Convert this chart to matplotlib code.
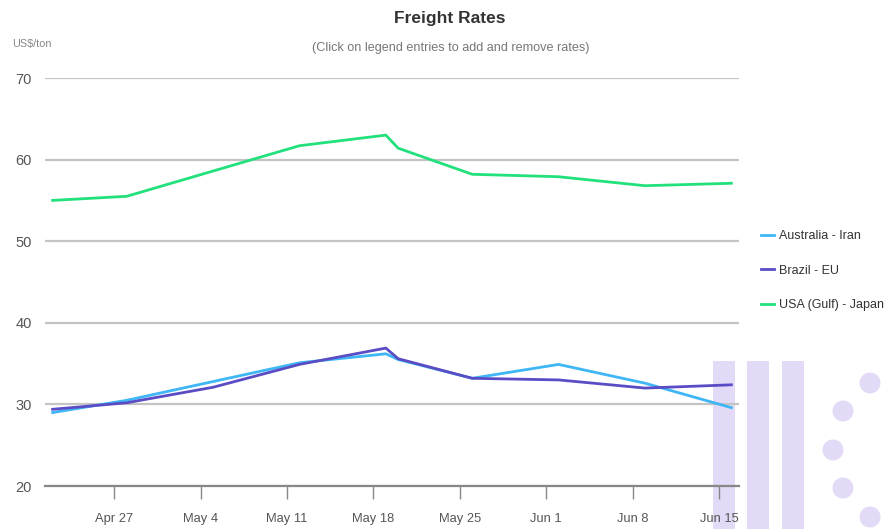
import matplotlib
matplotlib.use("Agg")
import matplotlib.pyplot as plt
import matplotlib.dates as mdates
import matplotlib.patches as mpatches
import pandas as pd

plt.rcParams['font.family'] = ['Liberation Sans', 'DejaVu Sans']

dates = ["2020-04-22", "2020-04-28", "2020-05-05", "2020-05-12", "2020-05-19",
         "2020-05-20", "2020-05-26", "2020-06-02", "2020-06-09", "2020-06-16"]
australia_iran = [29.0, 30.5, 32.8, 35.1, 36.2, 35.5, 33.2, 34.9, 32.6, 29.6]
brazil_eu = [29.4, 30.2, 32.1, 34.9, 36.9, 35.6, 33.2, 33.0, 32.0, 32.4]
usa_japan = [55.0, 55.5, 58.6, 61.7, 63.0, 61.4, 58.2, 57.9, 56.8, 57.1]
series_names = ["Australia - Iran", "Brazil - EU", "USA (Gulf) - Japan"]
series_colors = ["#3fb6f5", "#5a4cc4", "#22e07c"]
tick_dates = ["2020-04-27", "2020-05-04", "2020-05-11", "2020-05-18",
              "2020-05-25", "2020-06-01", "2020-06-08", "2020-06-15"]
tick_labels = ["Apr 27", "May 4", "May 11", "May 18", "May 25", "Jun 1", "Jun 8", "Jun 15"]
y_ticks = [20, 30, 40, 50, 60, 70]

W, H = 886, 529
fig = plt.figure(figsize=(W / 100, H / 100), dpi=100)

# watermark (behind the chart)
wm = '#e2daf6'
for bx0, bx1 in [(713, 735), (747, 769), (782, 804)]:
    fig.patches.append(mpatches.Rectangle((bx0 / W, 0), (bx1 - bx0) / W, (H - 361) / H,
                                          transform=fig.transFigure, color=wm,
                                          lw=0, zorder=-2))
for cx, cy in [(870, 383), (843, 411), (833, 450), (843, 488), (870, 517)]:
    fig.patches.append(mpatches.Ellipse((cx / W, 1 - cy / H), 21 / W, 21 / H,
                                        transform=fig.transFigure, color=wm,
                                        lw=0, zorder=-2))

ax = fig.add_axes([45 / W, (H - 486) / H, (739 - 45) / W, (486 - 78) / H])
ax.set_facecolor('none')

x = pd.to_datetime(dates)
for vals, name, col in zip([australia_iran, brazil_eu, usa_japan], series_names, series_colors):
    ax.plot(x, vals, color=col, lw=2.0, label=name, solid_joinstyle='miter', zorder=3)

x0 = pd.Timestamp("2020-04-27")
ax.set_xlim(mdates.date2num(x0) - 5.62, mdates.date2num(x0) + 50.62)
ax.set_ylim(20, 70)
ax.set_yticks(y_ticks)
ax.set_yticklabels([str(v) for v in y_ticks], fontsize=10.5, color='#555555')
ax.set_xticks(pd.to_datetime(tick_dates))
ax.set_xticklabels(tick_labels, fontsize=9.3, color='#555555')
ax.tick_params(axis='y', length=0, pad=9.4)
ax.tick_params(axis='x', length=9, width=1, color='#888888', pad=10.5)
ax.grid(axis='y', color='#c4c4c4', lw=1.6)
ax.grid(axis='x', visible=False)
for s in ['top', 'right', 'left']:
    ax.spines[s].set_visible(False)
ax.spines['bottom'].set_color('#888888')
ax.spines['bottom'].set_linewidth(1.6)
ax.set_axisbelow(True)

leg = fig.legend(loc='upper left', bbox_to_anchor=(750 / W, 1 - 219 / H), frameon=False,
                 fontsize=9, handlelength=1.0, labelspacing=1.8, handletextpad=0.45)
for t in leg.get_texts():
    t.set_color('#333333')

fig.text(450 / W, 1 - 18 / H, "Freight Rates", ha='center', va='center', fontsize=12.5,
         fontweight='bold', color='#333333')
fig.text(451 / W, 1 - 48 / H, "(Click on legend entries to add and remove rates)", ha='center',
         va='center', fontsize=9.1, color='#777777')
fig.text(12 / W, 1 - 44 / H, "US$/ton", ha='left', va='center', fontsize=7.8, color='#888888')

fig.savefig("out.png", dpi=100)
